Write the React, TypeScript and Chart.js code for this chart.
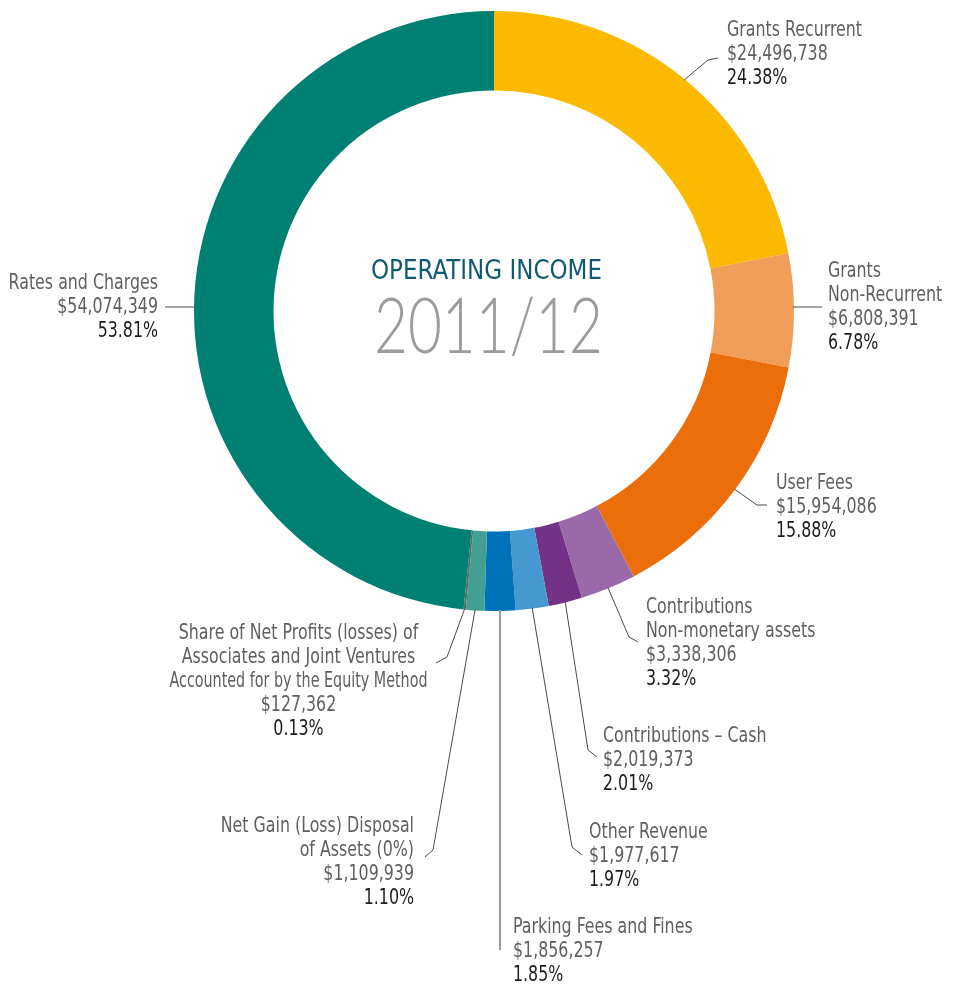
import React, { useEffect, useRef } from 'react';
import { Chart, registerables } from 'chart.js';
Chart.register(...registerables);

const categories = [
  'Grants Recurrent',
  'Grants Non-Recurrent',
  'User Fees',
  'Contributions Non-monetary assets',
  'Contributions – Cash',
  'Other Revenue',
  'Parking Fees and Fines',
  'Net Gain (Loss) Disposal of Assets (0%)',
  'Share of Net Profits (losses) of Associates and Joint Ventures Accounted for by the Equity Method',
  'Rates and Charges',
];
const labelLines = [
  ['Grants Recurrent'],
  ['Grants', 'Non-Recurrent'],
  ['User Fees'],
  ['Contributions', 'Non-monetary assets'],
  ['Contributions – Cash'],
  ['Other Revenue'],
  ['Parking Fees and Fines'],
  ['Net Gain (Loss) Disposal', 'of Assets (0%)'],
  ['Share of Net Profits (losses) of', 'Associates and Joint Ventures', 'Accounted for by the Equity Method'],
  ['Rates and Charges'],
];
const amounts = [24496738, 6808391, 15954086, 3338306, 2019373, 1977617, 1856257, 1109939, 127362, 54074349];
const percentLabels = ['24.38%', '6.78%', '15.88%', '3.32%', '2.01%', '1.97%', '1.85%', '1.10%', '0.13%', '53.81%'];
const colors = ['#fbba00', '#f19e5b', '#ec6e0b', '#9a6aa8', '#743287', '#4598d0', '#0072b9', '#41a092', '#5e6a66', '#008073'];

const titleLine1 = 'OPERATING INCOME';
const titleLine2 = '2011/12';

type Layout = {
  x: number; y: number; align: CanvasTextAlign; mode: 'elbow' | 'h' | 'v';
  elbow?: [number, number]; end: [number, number]; color?: string; width?: number; maxW?: number;
};
const labelLayout: Layout[] = [
  { x: 727, y: 36, align: 'left', mode: 'elbow', elbow: [708, 60], end: [718, 58] },
  { x: 828, y: 277, align: 'left', mode: 'h', end: [822, 307] },
  { x: 776, y: 489, align: 'left', mode: 'elbow', elbow: [757, 505], end: [767, 505] },
  { x: 646, y: 613, align: 'left', mode: 'elbow', elbow: [629, 637], end: [638, 642] },
  { x: 603, y: 742, align: 'left', mode: 'elbow', elbow: [588, 750], end: [597, 757] },
  { x: 589, y: 838, align: 'left', mode: 'elbow', elbow: [572, 847], end: [582, 855] },
  { x: 513, y: 933, align: 'left', mode: 'v', end: [500, 950], color: '#9a9a9a', width: 2 },
  { x: 414, y: 832, align: 'right', mode: 'elbow', elbow: [433, 850], end: [425, 857] },
  { x: 298.5, y: 639, align: 'center', mode: 'elbow', elbow: [447, 657], end: [436, 663], maxW: 258 },
  { x: 158, y: 289, align: 'right', mode: 'h', end: [165, 307] },
];

const LABEL_FONT = "21px 'Liberation Sans Narrow', 'DejaVu Sans Condensed', 'Roboto', sans-serif";
const LINE_H = 24;

const labelsPlugin = {
  id: 'labelsPlugin',
  afterDraw(chart: any) {
    const ctx: CanvasRenderingContext2D = chart.ctx;
    const arcs = chart.getDatasetMeta(0).data;
    if (!arcs.length) return;
    const cx = arcs[0].x, cy = arcs[0].y, R = arcs[0].outerRadius;
    ctx.save();
    const drawFit = (text: string, font: string, color: string, left: number, right: number, base: number) => {
      ctx.font = font;
      ctx.fillStyle = color;
      ctx.textAlign = 'left';
      ctx.textBaseline = 'alphabetic';
      const w = ctx.measureText(text).width;
      const s = (right - left) / w;
      ctx.save();
      ctx.translate(left, base);
      ctx.scale(s, 1);
      ctx.fillText(text, 0, 0);
      ctx.restore();
    };
    drawFit(titleLine1, "26px 'Liberation Sans Narrow', 'DejaVu Sans Condensed', 'Roboto', sans-serif", '#0f5a72', 371, 602, 279);
    drawFit(titleLine2, "300 76px Lato, 'Open Sans', sans-serif", '#9a9b9d', 374, 603, 353);

    ctx.font = LABEL_FONT;
    const refW = ctx.measureText('Grants Recurrent').width;
    const sx = 135 / refW;
    ctx.textBaseline = 'alphabetic';
    arcs.forEach((arc: any, i: number) => {
      const L = labelLayout[i];
      if (!L) return;
      ctx.beginPath();
      ctx.strokeStyle = L.color || '#4a4a4a';
      ctx.lineWidth = L.width || 1;
      if (L.mode === 'h') {
        const dy = L.end[1] - cy;
        const dx = Math.sqrt(Math.max(R * R - dy * dy, 0));
        const sxp = L.end[0] > cx ? cx + dx - 1 : cx - dx + 1;
        ctx.moveTo(sxp, L.end[1]);
        ctx.lineTo(L.end[0], L.end[1]);
      } else if (L.mode === 'v') {
        const dx = L.end[0] - cx;
        const dy = Math.sqrt(Math.max(R * R - dx * dx, 0));
        ctx.moveTo(L.end[0], cy + dy - 1);
        ctx.lineTo(L.end[0], L.end[1]);
      } else {
        const mid = (arc.startAngle + arc.endAngle) / 2;
        const px = cx + Math.cos(mid) * (R - 1);
        const py = cy + Math.sin(mid) * (R - 1);
        ctx.moveTo(px, py);
        if (L.elbow) ctx.lineTo(L.elbow[0], L.elbow[1]);
        ctx.lineTo(L.end[0], L.end[1]);
      }
      ctx.stroke();

      const lines = [
        ...labelLines[i].map((t) => ({ t, c: '#5f5f5f' })),
        { t: '$' + amounts[i].toLocaleString('en-US'), c: '#5f5f5f' },
        { t: percentLabels[i], c: '#1c1c1c' },
      ];
      ctx.textAlign = L.align;
      lines.forEach((ln, k) => {
        ctx.fillStyle = ln.c;
        ctx.save();
        ctx.translate(L.x, L.y + k * LINE_H);
        ctx.scale(sx, 1);
        if (L.maxW) ctx.fillText(ln.t, 0, 0, L.maxW / sx);
        else ctx.fillText(ln.t, 0, 0);
        ctx.restore();
      });
    });
    ctx.restore();
  },
};

export default function App() {
  const ref = useRef<HTMLCanvasElement | null>(null);
  useEffect(() => {
    document.body.style.margin = '0';
    if (!ref.current) return;
    const chart = new Chart(ref.current, {
      type: 'doughnut',
      data: {
        labels: categories,
        datasets: [
          {
            data: amounts,
            backgroundColor: colors,
            borderWidth: 0,
            hoverOffset: 0,
            offset: 0,
          },
        ],
      },
      options: {
        responsive: false,
        animation: false,
        cutout: '73.5%',
        layout: { padding: { left: 194, right: 160, top: 11, bottom: 374 } },
        plugins: { legend: { display: false }, tooltip: { enabled: false } },
        events: [],
      },
      plugins: [labelsPlugin],
    });
    return () => chart.destroy();
  }, []);
  return (
    <div style={{ width: 954, height: 985, background: '#fff' }}>
      <canvas ref={ref} width={954} height={985} style={{ display: 'block' }} />
    </div>
  );
}
